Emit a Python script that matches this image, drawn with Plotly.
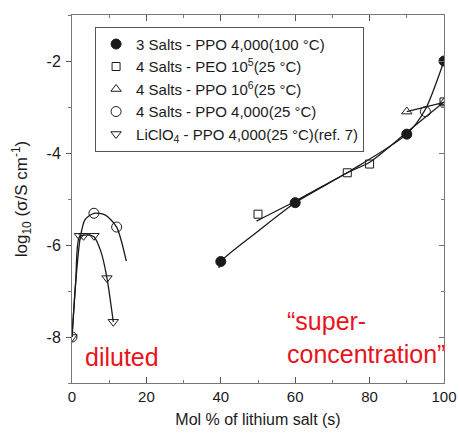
import plotly.graph_objects as go

# ---- data ----
# marker series
salts3_ppo4000_100C_x = [40, 60, 90, 100]
salts3_ppo4000_100C_y = [-6.36, -5.08, -3.59, -2.0]

salts4_peo1e5_25C_x = [50, 74, 80, 100]
salts4_peo1e5_25C_y = [-5.33, -4.43, -4.24, -2.89]

salts4_ppo1e6_25C_x = [90, 100]
salts4_ppo1e6_25C_y = [-3.1, -2.9]

salts4_ppo4000_25C_x = [0, 5.9, 12, 95]
salts4_ppo4000_25C_y = [-8.0, -5.31, -5.61, -3.1]

liclo4_ppo4000_25C_x = [0, 2.0, 3.1, 5.9, 9.4, 11.1]
liclo4_ppo4000_25C_y = [-8.0, -5.8, -5.8, -5.8, -6.72, -7.67]

# hand-drawn guide curves
curve_a_x = [39.5, 40, 50, 60, 75, 90, 95, 100]
curve_a_y = [-6.5, -6.36, -5.7, -5.08, -4.38, -3.59, -3.05, -2.0]
curve_b_x = [49.6, 60, 74, 80, 90, 100]
curve_b_y = [-5.48, -5.05, -4.43, -4.2, -3.55, -2.89]
curve_c_x = [90, 100]
curve_c_y = [-3.1, -2.9]
curve_d_x = [0, 1.0, 2.2, 3.5, 5.9, 9, 12, 14.6]
curve_d_y = [-8.0, -6.8, -5.85, -5.45, -5.31, -5.35, -5.61, -6.35]
curve_e_x = [0, 1.0, 2.0, 4.0, 5.9, 7.8, 9.4, 11.1]
curve_e_y = [-8.0, -6.8, -5.82, -5.78, -5.82, -6.15, -6.72, -7.67]

x_tickvals = [0, 20, 40, 60, 80, 100]
x_ticktext = ["0", "20", "40", "60", "80", "100"]
y_tickvals = [-2, -4, -6, -8]
y_ticktext = ["-2", "-4", "-6", "-8"]

series_names = [
    "3 Salts - PPO 4,000(100 °C)",
    "4 Salts - PEO 10<sup>5</sup>(25 °C)",
    "4 Salts - PPO 10<sup>6</sup>(25 °C)",
    "4 Salts - PPO 4,000(25 °C)",
    "LiClO<sub>4</sub> - PPO 4,000(25 °C)(ref. 7)",
]

INK = "#1a1a1a"
RED = "#e8141b"
FONT = "Liberation Sans"

fig = go.Figure()

for cx, cy in [(curve_a_x, curve_a_y), (curve_b_x, curve_b_y), (curve_c_x, curve_c_y),
               (curve_d_x, curve_d_y), (curve_e_x, curve_e_y)]:
    fig.add_trace(go.Scatter(x=cx, y=cy, mode="lines",
                             line=dict(color=INK, width=1.3, shape="spline", smoothing=0.7),
                             showlegend=False, hoverinfo="skip"))

marker_series = [
    (salts3_ppo4000_100C_x, salts3_ppo4000_100C_y, "circle", 10),
    (salts4_peo1e5_25C_x, salts4_peo1e5_25C_y, "square-open", 8),
    (salts4_ppo1e6_25C_x, salts4_ppo1e6_25C_y, "triangle-up-open", 9),
    (salts4_ppo4000_25C_x, salts4_ppo4000_25C_y, "circle-open", 10),
    (liclo4_ppo4000_25C_x, liclo4_ppo4000_25C_y, "triangle-down-open", 9),
]
for (mx, my, sym, sz), name in zip(marker_series, series_names):
    fig.add_trace(go.Scatter(x=mx, y=my, mode="markers", name=name,
                             marker=dict(symbol=sym, size=sz, color=INK,
                                         line=dict(color=INK, width=1))))

# right-side axis (inward ticks) overlay
fig.add_trace(go.Scatter(x=[None], y=[None], yaxis="y2", showlegend=False, hoverinfo="skip"))

fig.add_annotation(x=3, y=-8.43, xref="x", yref="y", text="diluted", showarrow=False,
                   xanchor="left", yanchor="middle", font=dict(family=FONT, size=25, color=RED))
fig.add_annotation(x=57.2, y=-8.0, xref="x", yref="y", text="“super-<br>concentration”", showarrow=False,
                   xanchor="left", yanchor="middle", align="left",
                   font=dict(family=FONT, size=25, color=RED))

fig.update_layout(
    width=459, height=434,
    margin=dict(l=72, r=15, t=15, b=51),
    paper_bgcolor="white", plot_bgcolor="white",
    font=dict(family=FONT, color=INK, size=16),
    showlegend=True,
    legend=dict(x=0.062, y=0.968, xanchor="left", yanchor="top",
                bordercolor="#555", borderwidth=1, bgcolor="white",
                font=dict(family=FONT, size=15, color=INK),
                itemwidth=30, tracegroupgap=0),
    xaxis=dict(range=[0, 100], tickvals=x_tickvals, ticktext=x_ticktext,
               ticks="inside", ticklen=6, tickcolor="#555", mirror="ticks",
               showline=True, linecolor="#777", linewidth=1, showgrid=False, zeroline=False,
               minor=dict(ticks="inside", ticklen=3, dtick=10, tickcolor="#777"),
               title=dict(text="Mol % of lithium salt (s)", font=dict(size=16), standoff=9),
               tickfont=dict(size=15), ticklabeloverflow="allow", ticklabelstandoff=0,
               automargin=False),
    yaxis=dict(range=[-9, -1], tickvals=y_tickvals, ticktext=y_ticktext,
               ticks="outside", ticklen=5, tickcolor="#555",
               showline=True, linecolor="#777", linewidth=1, showgrid=False, zeroline=False,
               minor=dict(ticks="outside", ticklen=3, dtick=1, tickcolor="#777"),
               title=dict(text="log<sub>10</sub> (σ/S cm<sup>-1</sup>)", font=dict(size=17), standoff=14),
               tickfont=dict(size=16), ticklabelstandoff=2, automargin=False),
    yaxis2=dict(range=[-9, -1], overlaying="y", side="right", matches="y",
                tickvals=y_tickvals, showticklabels=False,
                ticks="inside", ticklen=5, tickcolor="#777",
                showline=True, linecolor="#777", linewidth=1, showgrid=False, zeroline=False,
                minor=dict(ticks="inside", ticklen=3, dtick=1, tickcolor="#777"),
                automargin=False),
)

# remove the default 8px page margin so the 459x434 figure fills the window exactly
fig.write_html("out.html", config={"displayModeBar": False},
               post_script="document.body.style.margin='0';document.body.style.overflow='hidden';")
